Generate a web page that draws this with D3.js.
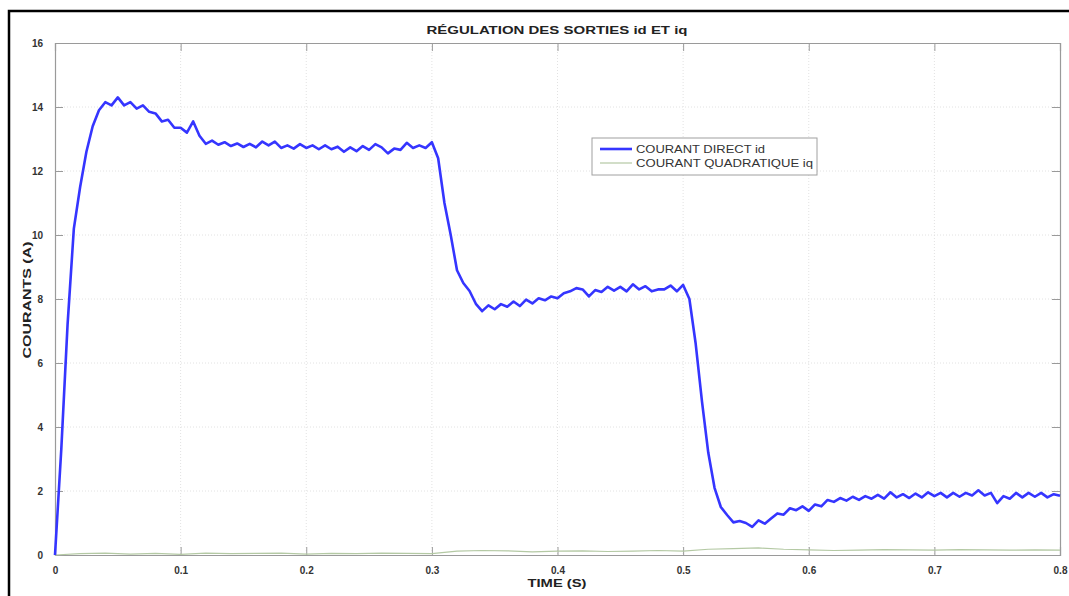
<!DOCTYPE html>
<html>
<head>
<meta charset="utf-8">
<script src="https://cdn.jsdelivr.net/npm/d3@7"></script>
<style>
  html, body { margin: 0; padding: 0; background: #fff; }
  svg { display: block; }
  text { font-family: "Liberation Sans", Arial, sans-serif; }
</style>
</head>
<body>
<svg id="chart" width="1069" height="596"></svg>
<script>
// ---------- DATA ----------
const chartTitle = "RÉGULATION DES SORTIES id ET iq";
const xLabel = "TIME (S)";
const yLabel = "COURANTS (A)";
const seriesNames = ["COURANT DIRECT id", "COURANT QUADRATIQUE iq"];

const xTicks = [0, 0.1, 0.2, 0.3, 0.4, 0.5, 0.6, 0.7, 0.8];
const yTicks = [0, 2, 4, 6, 8, 10, 12, 14, 16];

const idTime = [
  0.000,0.005,0.010,0.015,0.020,0.025,0.030,0.035,0.040,0.045,
  0.050,0.055,0.060,0.065,0.070,0.075,0.080,0.085,0.090,0.095,
  0.100,0.105,0.110,0.115,0.120,0.125,0.130,0.135,0.140,0.145,
  0.150,0.155,0.160,0.165,0.170,0.175,0.180,0.185,0.190,0.195,
  0.200,0.205,0.210,0.215,0.220,0.225,0.230,0.235,0.240,0.245,
  0.250,0.255,0.260,0.265,0.270,0.275,0.280,0.285,0.290,0.295,
  0.300,0.305,0.310,0.315,0.320,0.325,0.330,0.335,0.340,0.345,
  0.350,0.355,0.360,0.365,0.370,0.375,0.380,0.385,0.390,0.395,
  0.400,0.405,0.410,0.415,0.420,0.425,0.430,0.435,0.440,0.445,
  0.450,0.455,0.460,0.465,0.470,0.475,0.480,0.485,0.490,0.495,
  0.500,0.505,0.510,0.515,0.520,0.525,0.530,0.535,0.540,0.545,
  0.550,0.555,0.560,0.565,0.570,0.575,0.580,0.585,0.590,0.595,
  0.600,0.605,0.610,0.615,0.620,0.625,0.630,0.635,0.640,0.645,
  0.650,0.655,0.660,0.665,0.670,0.675,0.680,0.685,0.690,0.695,
  0.700,0.705,0.710,0.715,0.720,0.725,0.730,0.735,0.740,0.745,
  0.750,0.755,0.760,0.765,0.770,0.775,0.780,0.785,0.790,0.795,
  0.800
];
const idValues = [
  0.0, 3.3, 7.2, 10.2, 11.5, 12.6, 13.4, 13.9, 14.15, 14.05,
  14.3, 14.05, 14.15, 13.95, 14.05, 13.85, 13.8, 13.55, 13.6, 13.35,
  13.35, 13.2, 13.55, 13.1, 12.85, 12.95, 12.82, 12.9, 12.78, 12.86,
  12.75, 12.85, 12.74, 12.92, 12.8, 12.92, 12.72, 12.8, 12.7, 12.84,
  12.72, 12.8, 12.68, 12.8, 12.68, 12.76, 12.6, 12.74, 12.62, 12.78,
  12.66, 12.84, 12.74, 12.55, 12.7, 12.66, 12.88, 12.72, 12.8, 12.72,
  12.9, 12.4, 11.0, 10.0, 8.9, 8.5, 8.25, 7.85, 7.62, 7.8,
  7.68, 7.84, 7.76, 7.92, 7.78, 7.98, 7.86, 8.02, 7.96, 8.08,
  8.02, 8.18, 8.24, 8.34, 8.3, 8.08, 8.28, 8.22, 8.38, 8.26,
  8.38, 8.24, 8.46, 8.3, 8.4, 8.24, 8.3, 8.3, 8.42, 8.24,
  8.44, 8.0, 6.6, 4.8, 3.2, 2.1, 1.5, 1.25, 1.02, 1.06,
  1.0, 0.88, 1.08, 0.98, 1.14, 1.3, 1.26, 1.46, 1.4, 1.52,
  1.38, 1.58, 1.52, 1.72, 1.66, 1.78, 1.7, 1.82, 1.72, 1.84,
  1.76, 1.88, 1.76, 1.96, 1.8, 1.9, 1.78, 1.92, 1.8, 1.96,
  1.84, 1.94, 1.8, 1.94, 1.82, 1.94, 1.86, 2.02, 1.86, 1.94,
  1.62, 1.84, 1.76, 1.94, 1.8, 1.94, 1.82, 1.94, 1.8, 1.9,
  1.85
];

const iqTime = [
  0.00,0.02,0.04,0.06,0.08,0.10,0.12,0.14,0.16,0.18,
  0.20,0.22,0.24,0.26,0.28,0.30,0.32,0.34,0.36,0.38,
  0.40,0.42,0.44,0.46,0.48,0.50,0.52,0.54,0.56,0.58,
  0.60,0.62,0.64,0.66,0.68,0.70,0.72,0.74,0.76,0.78,
  0.80
];
const iqValues = [
  0.0, 0.04, 0.06, 0.03, 0.05, 0.02, 0.06, 0.04, 0.05, 0.06,
  0.03, 0.05, 0.04, 0.06, 0.05, 0.04, 0.12, 0.14, 0.13, 0.10,
  0.12, 0.13, 0.11, 0.12, 0.14, 0.12, 0.18, 0.20, 0.22, 0.18,
  0.16, 0.14, 0.15, 0.17, 0.16, 0.15, 0.17, 0.16, 0.15, 0.16,
  0.15
];

// ---------- LAYOUT ----------
const svg = d3.select("#chart");
const W = 1069, H = 596;
const m = { left: 55, right: 1060, top: 43, bottom: 555 };

const x = d3.scaleLinear().domain([0, 0.8]).range([m.left, m.right]);
const y = d3.scaleLinear().domain([0, 16]).range([m.bottom, m.top]);

// outer black frame
svg.append("rect").attr("x", 9).attr("y", 11).attr("width", W + 50).attr("height", H + 50)
  .attr("fill", "none").attr("stroke", "#000").attr("stroke-width", 2.5);

// grid
const grid = svg.append("g");
grid.selectAll(".gx").data(xTicks.slice(1, -1)).enter().append("line")
  .attr("x1", d => x(d)).attr("x2", d => x(d)).attr("y1", m.top).attr("y2", m.bottom)
  .attr("stroke", "#e2e2e2").attr("stroke-width", 1).attr("stroke-dasharray", "1,2");
grid.selectAll(".gy").data(yTicks.slice(1, -1)).enter().append("line")
  .attr("x1", m.left).attr("x2", m.right).attr("y1", d => y(d)).attr("y2", d => y(d))
  .attr("stroke", "#e2e2e2").attr("stroke-width", 1).attr("stroke-dasharray", "1,2");

// axes (ticks inside, MATLAB style)
const axisColor = "#9a9a9a";
const tickLen = 8;
const axB = svg.append("g").attr("transform", `translate(0,${m.bottom})`)
  .call(d3.axisBottom(x).tickValues(xTicks).tickSize(-tickLen).tickPadding(tickLen + 4)
    .tickFormat(d => d === 0 ? "0" : d3.format(".1f")(d)));
const axT = svg.append("g").attr("transform", `translate(0,${m.top})`)
  .call(d3.axisTop(x).tickValues(xTicks).tickSize(-tickLen).tickFormat(""));
const axL = svg.append("g").attr("transform", `translate(${m.left},0)`)
  .call(d3.axisLeft(y).tickValues(yTicks).tickSize(-tickLen).tickPadding(tickLen + 4));
const axR = svg.append("g").attr("transform", `translate(${m.right},0)`)
  .call(d3.axisRight(y).tickValues(yTicks).tickSize(-tickLen).tickFormat(""));
[axB, axT, axL, axR].forEach(a => {
  a.selectAll("path.domain").attr("stroke", axisColor).attr("stroke-width", 1.2);
  a.selectAll(".tick line").attr("stroke", axisColor).attr("stroke-width", 1);
  a.selectAll(".tick text").attr("fill", "#333").attr("font-size", 10)
    .attr("font-weight", "bold").attr("font-family", "Liberation Sans, Arial, sans-serif");
});

// lines
const lineGen = d3.line().x(d => x(d[0])).y(d => y(d[1]));
const iqData = iqTime.map((t, i) => [t, iqValues[i]]);
const idData = idTime.map((t, i) => [t, idValues[i]]);

svg.append("path").datum(iqData).attr("d", lineGen)
  .attr("fill", "none").attr("stroke", "#b4c9a4").attr("stroke-width", 1.2);
svg.append("path").datum(idData).attr("d", lineGen)
  .attr("fill", "none").attr("stroke", "#3535ff").attr("stroke-width", 2.6)
  .attr("stroke-linejoin", "round");

// title & labels
svg.append("text").attr("x", 557).attr("y", 34).attr("text-anchor", "middle")
  .attr("font-size", 11).attr("font-weight", "bold").attr("fill", "#222")
  .attr("textLength", 261).attr("lengthAdjust", "spacingAndGlyphs").text(chartTitle);
svg.append("text").attr("x", 557).attr("y", 587).attr("text-anchor", "middle")
  .attr("font-size", 11).attr("font-weight", "bold").attr("fill", "#222")
  .attr("textLength", 59).attr("lengthAdjust", "spacingAndGlyphs").text(xLabel);
svg.append("text").attr("transform", "translate(31,300) rotate(-90)").attr("text-anchor", "middle")
  .attr("font-size", 11).attr("font-weight", "bold").attr("fill", "#222")
  .attr("textLength", 117).attr("lengthAdjust", "spacingAndGlyphs").text(yLabel);

// legend
const lg = svg.append("g");
lg.append("rect").attr("x", 592).attr("y", 138).attr("width", 225).attr("height", 37)
  .attr("fill", "#fff").attr("stroke", "#a0a0a0").attr("stroke-width", 1);
const legendColors = ["#3535ff", "#b4c9a4"];
const legendWidths = [2.6, 1.2];
const legendTextLen = [129, 177];
seriesNames.forEach((name, i) => {
  const yy = 149 + i * 14;
  lg.append("line").attr("x1", 600).attr("x2", 632).attr("y1", yy).attr("y2", yy)
    .attr("stroke", legendColors[i]).attr("stroke-width", legendWidths[i]);
  lg.append("text").attr("x", 636).attr("y", yy + 3.5).attr("font-size", 10)
    .attr("fill", "#333").attr("textLength", legendTextLen[i])
    .attr("lengthAdjust", "spacingAndGlyphs").text(name);
});
</script>
</body>
</html>
